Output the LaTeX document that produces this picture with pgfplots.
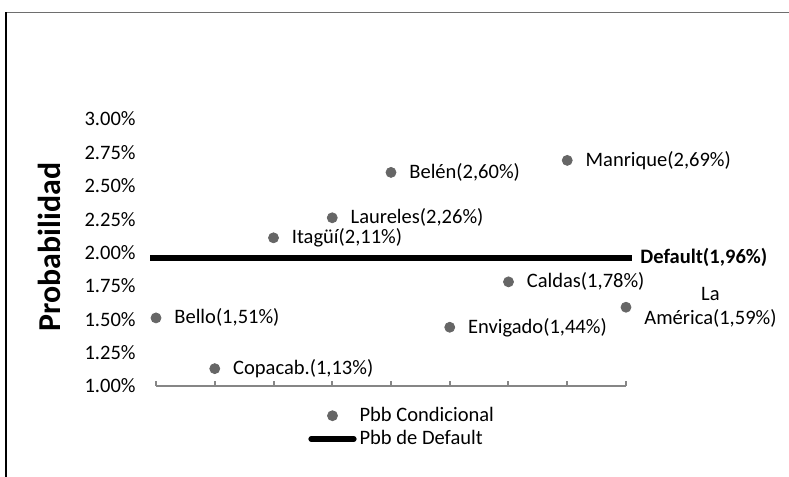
\documentclass[border=0pt]{standalone}
\usepackage{pgfplots}
\pgfplotsset{compat=1.18}
\usepackage{fontspec}
\setmainfont{Carlito}
\definecolor{dotgray}{RGB}{102,102,102}
\definecolor{axgray}{RGB}{134,134,134}
\definecolor{framegray}{RGB}{110,110,110}
\pgfplotsset{
  dotleg/.style={legend image code/.code={\draw[##1] plot coordinates {(10.75bp,0bp)};}},
  lineleg/.style={legend image code/.code={\draw[##1, shorten <=0pt, shorten >=0pt, line cap=round, line width=2.6bp] (0bp,0bp) -- (21.5bp,0bp);}},
}
\begin{document}
\fontsize{10.3}{12.2}\selectfont
\begin{tikzpicture}
\useasboundingbox (0,0) rectangle (394.5bp,238.5bp);
% outer frame (partial, as in the reference)
\draw[framegray, line width=0.8bp] (2.5bp,232.25bp) -- (394.5bp,232.25bp);
\draw[black, line width=0.8bp] (3bp,232.25bp) -- (3bp,0bp);
% y label
\node[rotate=90, font=\fontsize{16}{19}\selectfont\bfseries] at (24.5bp,115bp) {Probabilidad};
\begin{axis}[
  at={(78bp,45.5bp)}, anchor=south west,
  scale only axis, width=235bp, height=133.5bp,
  xmin=1, xmax=9, ymin=1, ymax=3,
  clip=false,
  axis x line*=bottom, axis y line*=left,
  y axis line style={draw=none},
  x axis line style={axgray, line width=1bp, -},
  xtick={1,2,...,9}, xticklabels={},
  xtick style={axgray, line width=1bp},
  xtick align=inside,
  major tick length=2.5bp,
  ytick={1,1.25,1.5,1.75,2,2.25,2.5,2.75,3},
  yticklabels={1.00\%,1.25\%,1.50\%,1.75\%,2.00\%,2.25\%,2.50\%,2.75\%,3.00\%},
  ytick style={draw=none},
  yticklabel style={anchor=east, inner sep=0pt, xshift=-10bp},
  legend style={draw=none, fill=none, at={(0.3234,-0.155)}, anchor=west,
    inner sep=0pt, cells={anchor=west}, row sep=0bp,
    nodes={inner sep=1.5bp}},
]
\addplot[only marks, mark=*, mark size=2.5bp, dotgray,
  point meta=explicit symbolic,
  nodes near coords,
  nodes near coords style={anchor=west, inner sep=0pt, xshift=9bp, black, align=center, font=\fontsize{10.3}{12.2}\selectfont},
  dotleg]
  coordinates {
  (1,1.51) [Bello(1,51\%)]
  (2,1.13) [Copacab.(1,13\%)]
  (3,2.11) [Itagüí(2,11\%)]
  (4,2.26) [Laureles(2,26\%)]
  (5,2.60) [Belén(2,60\%)]
  (6,1.44) [Envigado(1,44\%)]
  (7,1.78) [Caldas(1,78\%)]
  (8,2.69) [Manrique(2,69\%)]
  (9,1.59) [La\\América(1,59\%)]
  };
\addlegendentry{Pbb Condicional}
\addplot[black, line width=2.9bp, shorten <=-3bp, shorten >=-3bp, lineleg]
  coordinates {(1,1.96) (2,1.96) (3,1.96) (4,1.96) (5,1.96) (6,1.96) (7,1.96) (8,1.96) (9,1.96)};
\addlegendentry{Pbb de Default}
\node[anchor=west, inner sep=0pt, xshift=7bp, font=\fontsize{10.3}{12.2}\selectfont\bfseries] at (axis cs:9,1.96) {Default(1,96\%)};
\end{axis}
\end{tikzpicture}
\end{document}
